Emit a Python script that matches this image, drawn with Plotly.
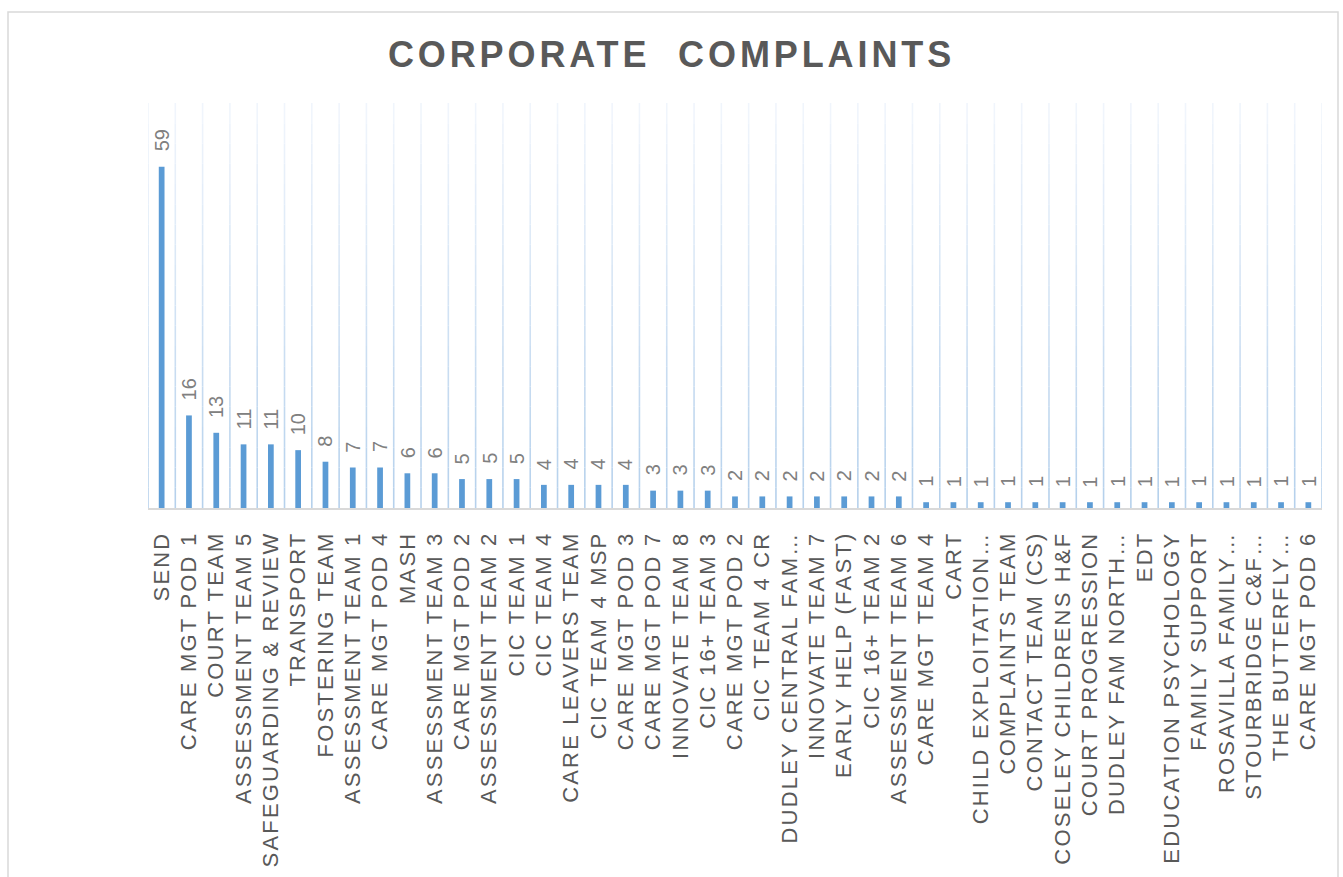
import plotly.graph_objects as go

# Complaints received per team
teams = [
    "SEND", "CARE MGT POD 1", "COURT TEAM", "ASSESSMENT TEAM 5",
    "SAFEGUARDING & REVIEW", "TRANSPORT", "FOSTERING TEAM", "ASSESSMENT TEAM 1",
    "CARE MGT POD 4", "MASH", "ASSESSMENT TEAM 3", "CARE MGT POD 2",
    "ASSESSMENT TEAM 2", "CIC TEAM 1", "CIC TEAM 4", "CARE LEAVERS TEAM",
    "CIC TEAM 4 MSP", "CARE MGT POD 3", "CARE MGT POD 7", "INNOVATE TEAM 8",
    "CIC 16+ TEAM 3", "CARE MGT POD 2", "CIC TEAM 4 CR", "DUDLEY CENTRAL FAM…",
    "INNOVATE TEAM 7", "EARLY HELP (FAST)", "CIC 16+ TEAM 2", "ASSESSMENT TEAM 6",
    "CARE MGT TEAM 4", "CART", "CHILD EXPLOITATION…", "COMPLAINTS TEAM",
    "CONTACT TEAM (CS)", "COSELEY CHILDRENS H&F", "COURT PROGRESSION",
    "DUDLEY FAM NORTH…", "EDT", "EDUCATION PSYCHOLOGY", "FAMILY SUPPORT",
    "ROSAVILLA FAMILY…", "STOURBRIDGE C&F…", "THE BUTTERFLY…", "CARE MGT POD 6",
]
complaints = [
    59, 16, 13, 11, 11, 10, 8, 7, 7, 6, 6, 5, 5, 5, 4, 4, 4, 4, 3, 3, 3,
    2, 2, 2, 2, 2, 2, 2, 1, 1, 1, 1, 1, 1, 1, 1, 1, 1, 1, 1, 1, 1, 1,
]
title_text = "CORPORATE\u00a0 COMPLAINTS"
y_max = 70

W, H = 1343, 877
ML, MR, MT, MB = 148, 21, 103, 369
FONT = "Arial, Liberation Sans, sans-serif"

n = len(teams)
pos = list(range(n))

fig = go.Figure()
fig.add_trace(go.Bar(
    x=pos, y=complaints, width=0.21,
    marker=dict(color="#5b9bd5", line=dict(width=0)),
    hoverinfo="skip",
))

# value labels above each bar
annotations = []
for i, v in zip(pos, complaints):
    annotations.append(dict(
        x=i, y=v, xref="x", yref="y", text=str(v), showarrow=False,
        textangle=-90, xanchor="center", yanchor="bottom", yshift=13,
        font=dict(family=FONT, size=20, color="#808080"),
    ))

# category separators drawn as lines fading toward the top
shapes = []
segs = 20
bot = (182, 209, 236)
top = (240, 245, 252)
for k in range(n + 1):
    for s in range(segs):
        t = s / (segs - 1)
        c = tuple(round(bot[j] + (top[j] - bot[j]) * t) for j in range(3))
        shapes.append(dict(
            type="line", xref="x", yref="paper",
            x0=k - 0.5, x1=k - 0.5, y0=s / segs, y1=(s + 1) / segs,
            line=dict(color="rgb(%d,%d,%d)" % c, width=1.6), layer="below",
        ))

# outer chart frame
pw, ph = W - ML - MR, H - MT - MB
shapes.append(dict(
    type="rect", xref="paper", yref="paper",
    x0=(8 - ML) / pw, x1=(1338 - ML) / pw,
    y0=(H - MB - 905) / ph, y1=(H - MB - 12) / ph,
    line=dict(color="#d9d9d9", width=1.5), fillcolor="rgba(0,0,0,0)", layer="below",
))

fig.update_layout(
    width=W, height=H,
    margin=dict(l=ML, r=MR, t=MT, b=MB),
    paper_bgcolor="white", plot_bgcolor="white",
    showlegend=False,
    title=dict(
        text=title_text, x=0.5, xref="container", xanchor="center",
        y=1 - 54 / H, yref="container", yanchor="middle",
        font=dict(family=FONT, size=36, color="#595959", weight="bold"),
    ),
    xaxis=dict(
        range=[-0.5, n - 0.5], tickmode="array", tickvals=pos, ticktext=teams,
        tickangle=-90, showgrid=False, zeroline=False, showline=True,
        linecolor="#d9d9d9", linewidth=1.5, ticks="", ticklabelstandoff=13,
        tickfont=dict(family=FONT, size=22, color="#595959"),
        fixedrange=True,
    ),
    yaxis=dict(range=[0, y_max], visible=False, showgrid=False, zeroline=False,
               fixedrange=True),
    annotations=annotations,
    shapes=shapes,
)

spacing_js = """
var gd = document.getElementById('{plot_id}');
function applySpacing() {
  gd.querySelectorAll('.xtick text').forEach(function (t) { t.style.letterSpacing = '2.2px'; });
  gd.querySelectorAll('.gtitle').forEach(function (t) { t.style.letterSpacing = '3.9px'; });
}
applySpacing();
setTimeout(applySpacing, 0);
if (gd.on) { gd.on('plotly_afterplot', applySpacing); }
"""

fig.write_html("out.html", config={"displayModeBar": False}, post_script=spacing_js)
